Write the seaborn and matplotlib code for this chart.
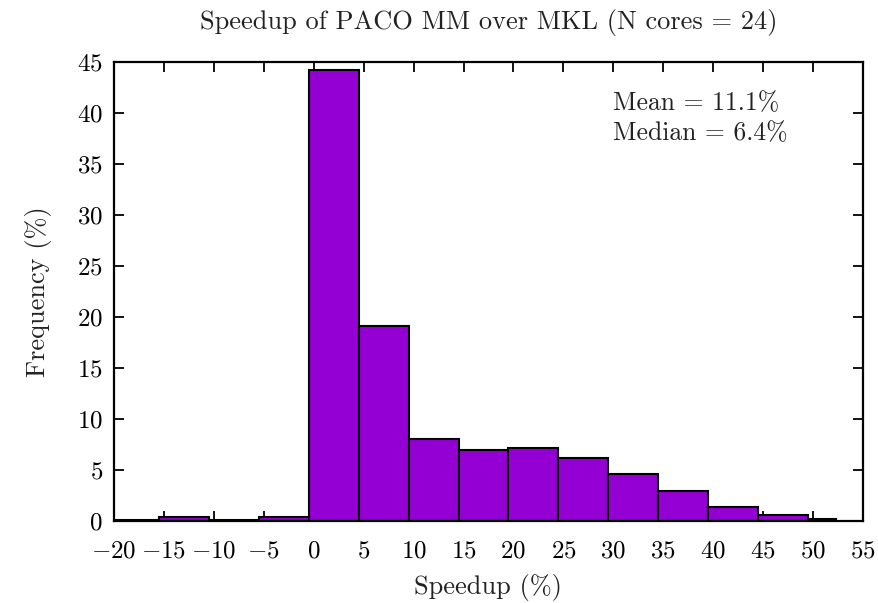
import numpy as np
import pandas as pd
import seaborn as sns
import matplotlib
matplotlib.use("Agg")
import matplotlib.pyplot as plt

# Data (bin edges as drawn, frequency in %)
bin_edges = [-20.5, -15.5, -10.5, -5.5, -0.5, 4.5, 9.5, 14.5, 19.5, 24.5,
             29.5, 34.5, 39.5, 44.5, 49.5, 52.3]
frequency = [0.1, 0.4, 0.1, 0.4, 44.2, 19.1, 8.0, 7.0, 7.2, 6.2,
             4.6, 2.9, 1.4, 0.6, 0.15]
x_ticks = [-20, -15, -10, -5, 0, 5, 10, 15, 20, 25, 30, 35, 40, 45, 50, 55]
y_ticks = [0, 5, 10, 15, 20, 25, 30, 35, 40, 45]
title = "Speedup of PACO MM over MKL (N cores = 24)"
stats_text = ["Mean = 11.1%", "Median = 6.4%"]

centers = [(bin_edges[i] + bin_edges[i + 1]) / 2 for i in range(len(frequency))]
df = pd.DataFrame({"speedup": centers, "freq": frequency})

sns.set_theme(style="ticks")
plt.rcParams["font.family"] = ["cmr10", "DejaVu Serif"]
plt.rcParams["mathtext.fontset"] = "cm"
plt.rcParams["axes.formatter.use_mathtext"] = True
plt.rcParams["axes.unicode_minus"] = True

fig = plt.figure(figsize=(8.79, 6.03), dpi=100)
ax = fig.add_axes([114 / 879, (603 - 521) / 603, (863 - 114) / 879, (521 - 62) / 603])

sns.histplot(data=df, x="speedup", weights="freq", bins=bin_edges, ax=ax,
             color="#9400d3", alpha=1.0, edgecolor="black", linewidth=1.5)

ax.set_xlim(-20, 55)
ax.set_ylim(0, 45)
ax.set_xticks(x_ticks)
ax.set_yticks(y_ticks)
ax.set_xticklabels([f"${t}$" if t >= 0 else f"$-{abs(t)}$" for t in x_ticks])
ax.set_yticklabels([f"${t}$" for t in y_ticks])
ax.tick_params(direction="in", length=7, width=1.3, top=True, right=True,
               labelsize=18, colors="black")
ax.tick_params(axis="x", pad=14)
ax.tick_params(axis="y", pad=8)
for s in ax.spines.values():
    s.set_visible(True)
    s.set_linewidth(1.6)
    s.set_color("black")

ax.set_title(title, fontsize=19, pad=24, color="#222222")
ax.set_xlabel("Speedup (%)", fontsize=19, labelpad=8, color="#222222")
ax.set_ylabel("Frequency (%)", fontsize=19, labelpad=18, color="#222222")

ax.text(0.666, 0.935, stats_text[0] + "\n" + stats_text[1], transform=ax.transAxes,
        fontsize=18.5, va="top", ha="left", linespacing=1.3, color="#222222")

fig.savefig("out.png", dpi=100, facecolor="white")
